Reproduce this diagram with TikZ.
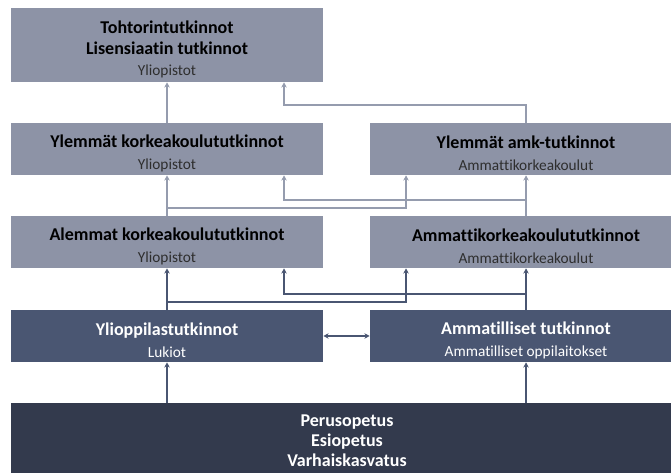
\documentclass[tikz,border=0pt]{standalone}
\usepackage{fontspec}
\setmainfont{Carlito}[Ligatures=NoCommon]
\usetikzlibrary{arrows.meta, positioning, calc}
\definecolor{Light}{HTML}{8D93A6}
\definecolor{LightLine}{HTML}{959CAE}
\definecolor{Mid}{HTML}{4A5672}
\definecolor{Dark}{HTML}{333A4D}
\definecolor{SubText}{HTML}{2E2E2E}

\newcommand{\sublabel}[1]{\mdseries\fontsize{11.5}{16}\selectfont #1}
\newcommand{\topgap}[1]{\rule{0pt}{#1}}

\begin{document}
\begin{tikzpicture}[x=0.75pt, y=-0.75pt,
    box/.style={rectangle, inner sep=0pt, align=center, minimum width=234pt,
        font=\bfseries\fontsize{13.5}{16}\selectfont},
    lightbox/.style={box, fill=Light, text=black, minimum height=39pt},
    midbox/.style={box, fill=Mid, text=white, minimum height=39pt},
    upl/.style={draw=LightLine, line width=1.3pt, -{Stealth[length=4pt, width=4pt]}},
    upd/.style={draw=Mid, line width=1.3pt, -{Stealth[length=4pt, width=4pt]}}]
    \useasboundingbox (0,0) rectangle (671,473);

    % columns of the connectors
    \coordinate (colL) at (167,0);
    \coordinate (colLi) at (284,0);
    \coordinate (colRi) at (406,0);
    \coordinate (colR) at (526,0);

    % boxes
    \node[lightbox, minimum height=55.5pt] (doc) at (167,45)
        {\topgap{16pt}Tohtorintutkinnot\\ Lisensiaatin tutkinnot\\ \color{SubText}\sublabel{Yliopistot}};
    \node[lightbox] (ylk) at (167,149)
        {\topgap{16pt}Ylemmät korkeakoulututkinnot\\ \color{SubText}\sublabel{Yliopistot}};
    \node[lightbox] (yamk) at (526,149)
        {\topgap{16pt}Ylemmät amk-tutkinnot\\ \color{SubText}\sublabel{Ammattikorkeakoulut}};
    \node[lightbox] (alk) at (167,242)
        {\topgap{16pt}Alemmat korkeakoulututkinnot\\ \color{SubText}\sublabel{Yliopistot}};
    \node[lightbox] (amk) at (526,242)
        {\topgap{16pt}Ammattikorkeakoulututkinnot\\ \color{SubText}\sublabel{Ammattikorkeakoulut}};
    \node[midbox] (yo) at (167,336)
        {\topgap{16pt}Ylioppilastutkinnot\\ \sublabel{Lukiot}};
    \node[midbox] (amm) at (526,336)
        {\topgap{16pt}Ammatilliset tutkinnot\\ \sublabel{Ammatilliset oppilaitokset}};
    \node[box, fill=Dark, text=white, minimum width=504pt, minimum height=52.5pt,
        font=\bfseries\fontsize{13.5}{15}\selectfont] (base) at (347,438)
        {\topgap{13pt}Perusopetus\\ Esiopetus\\ Varhaiskasvatus};

    % connectors to the top row
    \draw[upl] (ylk.north) -- (doc.south);
    \draw[upl] (yamk.north) -- ++(0,-18) -| (doc.south -| colLi);

    % connectors between the upper rows
    \draw[upl] (alk.north) -- (ylk.south);
    \draw[upl] (alk.north) ++(0,-8) -| (yamk.south -| colRi);
    \draw[upl] (amk.north) -- (yamk.south);
    \draw[upl] (amk.north) ++(0,-16) -| (ylk.south -| colLi);

    % connectors from the second level
    \draw[upd] (yo.north) -- (alk.south);
    \draw[upd] (yo.north) ++(0,-8) -| (amk.south -| colRi);
    \draw[upd] (amm.north) -- (amk.south);
    \draw[upd] (amm.north) ++(0,-16) -| (alk.south -| colLi);
    \draw[upd, {Stealth[length=4pt, width=4pt]}-{Stealth[length=4pt, width=4pt]}]
        (yo.east) -- (amm.west);

    % connectors from the base
    \draw[upd] (base.north -| colL) -- (yo.south);
    \draw[upd] (base.north -| colR) -- (amm.south);
\end{tikzpicture}
\end{document}
